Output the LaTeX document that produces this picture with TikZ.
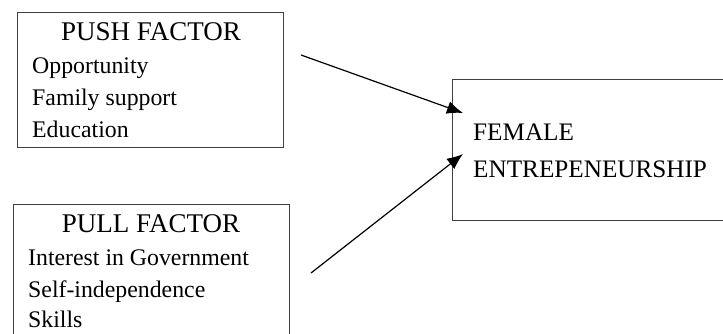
\documentclass[tikz,border=0pt]{standalone}
\usepackage{fontspec}
\setmainfont{Liberation Serif}
\usetikzlibrary{arrows.meta}
\tikzset{
  box/.style={draw=black!75, line width=1pt, fill=none},
  title/.style={font=\fontsize{27}{27}\selectfont, anchor=base, inner sep=0pt},
  item/.style={font=\fontsize{23.8}{24}\selectfont, anchor=base west, inner sep=0pt},
  bigitem/.style={font=\fontsize{25.2}{26}\selectfont, anchor=base west, inner sep=0pt},
  conn/.style={line width=1.2pt, -{Latex[length=16pt,width=13pt]}}
}
\begin{document}
\begin{tikzpicture}[x=1pt,y=1pt]
\useasboundingbox (0,0) rectangle (723,333);
\clip (0,0) rectangle (723,333);
% boxes (y = 333 - pixel row)
\draw[box] (17,186) rectangle (283,320);
\draw[box] (13,-20) rectangle (289,129);
\draw[box] (452,113) rectangle (740,254);
% push box text
\node[title] (push) at (151,293) {PUSH FACTOR};
\node[item] (opp) at (32,260) {Opportunity};
\node[item] (fam) at (32,228) {Family support};
\node[item] (edu) at (32,196) {Education};
% pull box text
\node[title] (pull) at (151,101) {PULL FACTOR};
\node[item] (int) at (28,68) {Interest in Government};
\node[item] (self) at (28,36) {Self-independence};
\node[item] (sk) at (28,6) {Skills};
% target
\node[bigitem] (fem) at (473,193) {FEMALE};
\node[bigitem] (ent) at (473,156) {ENTREPENEURSHIP};
% connectors
\coordinate (s1) at (301,278);
\coordinate (t1) at (463,220);
\coordinate (s2) at (311,60);
\coordinate (t2) at (463,179);
\draw[conn] (s1) -- (t1);
\draw[conn] (s2) -- (t2);
\end{tikzpicture}
\end{document}
